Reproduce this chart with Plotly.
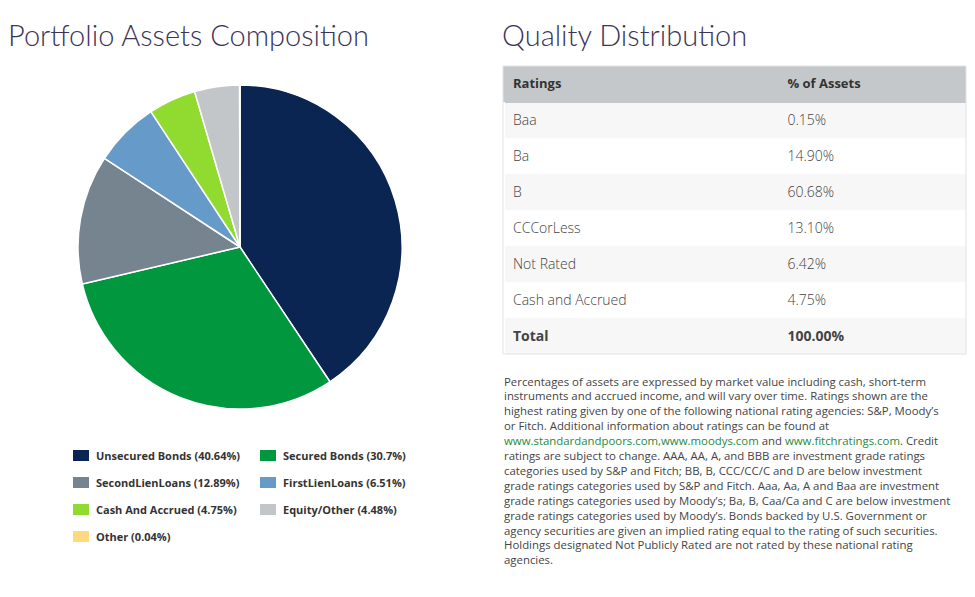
import plotly.graph_objects as go

# page body keeps its 8px margin, so the figure sits at (8, 8)
OFF = 8
W, H = 975 - 2 * OFF, 597 - 2 * OFF

# portfolio composition (pie)
asset_labels = ['Unsecured Bonds', 'Secured Bonds', 'SecondLienLoans', 'FirstLienLoans',
                'Cash And Accrued', 'Equity/Other', 'Other']
asset_values = [40.64, 30.7, 12.89, 6.51, 4.75, 4.48, 0.04]
asset_colors = ['#0b2552', '#00973f', '#76848f', '#669bc9', '#91db30', '#c3c6c9', '#ffd97d']

# quality distribution (table)
ratings = ['Baa', 'Ba', 'B', 'CCCorLess', 'Not Rated', 'Cash and Accrued']
rating_pct = [0.15, 14.90, 60.68, 13.10, 6.42, 4.75]
total_pct = 100.00

title_color = '#3a3458'
link_color = '#1f8a3c'
FONT = 'Open Sans'


def px(x):
    # window pixel -> paper x
    return (x - OFF) / W


def py(y):
    # window pixel -> paper y
    return 1 - (y - OFF) / H


fig = go.Figure()

fig.add_trace(go.Pie(
    labels=asset_labels, values=asset_values, sort=False, direction='clockwise',
    rotation=0, textinfo='none', hoverinfo='label+percent',
    marker=dict(colors=asset_colors, line=dict(color='white', width=1.5)),
    domain=dict(x=[px(78), px(402)], y=[py(409), py(85)]),
    showlegend=False,
))

# table (every cell wrapped in a tag so all rows sit at the same offset)
col1 = [f'<span>{r}</span>' for r in ratings] + ['<b>Total</b>']
col2 = [f'<span>{v:.2f}%</span>' for v in rating_pct] + [f'<b>{total_pct:.2f}%</b>']
row_fill = ['#f7f7f7' if i % 2 == 0 else '#ffffff' for i in range(len(col1))]
fig.add_trace(go.Table(
    domain=dict(x=[px(505), px(966)], y=[py(354), py(66)]),
    columnwidth=[275, 186],
    header=dict(values=['<b>Ratings</b>', '<b>% of Assets</b>'],
                fill_color='#c5c8ca', line_color='#c5c8ca', align='left', height=36,
                font=dict(family=FONT, size=13, color='#333333')),
    cells=dict(values=[col1, col2], fill_color=[row_fill, row_fill],
               line_color=[row_fill, row_fill], align='left', height=36,
               font=dict(family=FONT, size=14, color='#444444', weight=300)),
))

# fill the 2px left strip and draw the outer table border
fig.add_shape(type='rect', xref='paper', yref='paper', x0=px(503), x1=px(505.5),
              y0=py(102), y1=py(66), fillcolor='#c5c8ca', line=dict(width=0))
fig.add_shape(type='rect', xref='paper', yref='paper', x0=px(503), x1=px(966),
              y0=py(354), y1=py(66), line=dict(color='#e2e2e2', width=1))

# titles
for x, txt in [(6, 'Portfolio Assets Composition'), (500, 'Quality Distribution')]:
    fig.add_annotation(x=px(x), y=py(35), xref='paper', yref='paper', text=txt,
                       showarrow=False, xanchor='left', yanchor='middle',
                       font=dict(family='Lato', size=29, color=title_color, weight=300))

# legend, built from the pie arrays
for i, (lab, val, col) in enumerate(zip(asset_labels, asset_values, asset_colors)):
    r, c = divmod(i, 2)
    x0 = 73 + c * 187
    yc = 455 + r * 27
    fig.add_shape(type='rect', xref='paper', yref='paper', x0=px(x0), x1=px(x0 + 16),
                  y0=py(yc + 6), y1=py(yc - 5), fillcolor=col, line=dict(width=0))
    fig.add_annotation(x=px(x0 + 21), y=py(yc), xref='paper', yref='paper',
                       text=f'<b>{lab} ({val}%)</b>', showarrow=False,
                       xanchor='left', yanchor='middle',
                       font=dict(family=FONT, size=11, color='#333333'))

note_lines = [
    'Percentages of assets are expressed by market value including cash, short-term',
    'instruments and accrued income, and will vary over time. Ratings shown are the',
    'highest rating given by one of the following national rating agencies: S&P, Moody\u2019s',
    'or Fitch. Additional information about ratings can be found at',
    f'<span style="color:{link_color}">www.standardandpoors.com,www.moodys.com</span> and '
    f'<span style="color:{link_color}">www.fitchratings.com</span>. Credit',
    'ratings are subject to change. AAA, AA, A, and BBB are investment grade ratings',
    'categories used by S&P and Fitch; BB, B, CCC/CC/C and D are below investment',
    'grade ratings categories used by S&P and Fitch. Aaa, Aa, A and Baa are investment',
    'grade ratings categories used by Moody\u2019s; Ba, B, Caa/Ca and C are below investment',
    'grade ratings categories used by Moody\u2019s. Bonds backed by U.S. Government or',
    'agency securities are given an implied rating equal to the rating of such securities.',
    'Holdings designated Not Publicly Rated are not rated by these national rating',
    'agencies.',
]
for k, line in enumerate(note_lines):
    fig.add_annotation(x=px(502), y=py(381 + k * 14.9), xref='paper', yref='paper',
                       text=line, showarrow=False, align='left',
                       xanchor='left', yanchor='middle',
                       font=dict(family=FONT, size=11.4, color='#444444'))

fig.update_layout(width=W, height=H, margin=dict(l=0, r=0, t=0, b=0),
                  paper_bgcolor='white', plot_bgcolor='white')

fig.write_html('out.html')
